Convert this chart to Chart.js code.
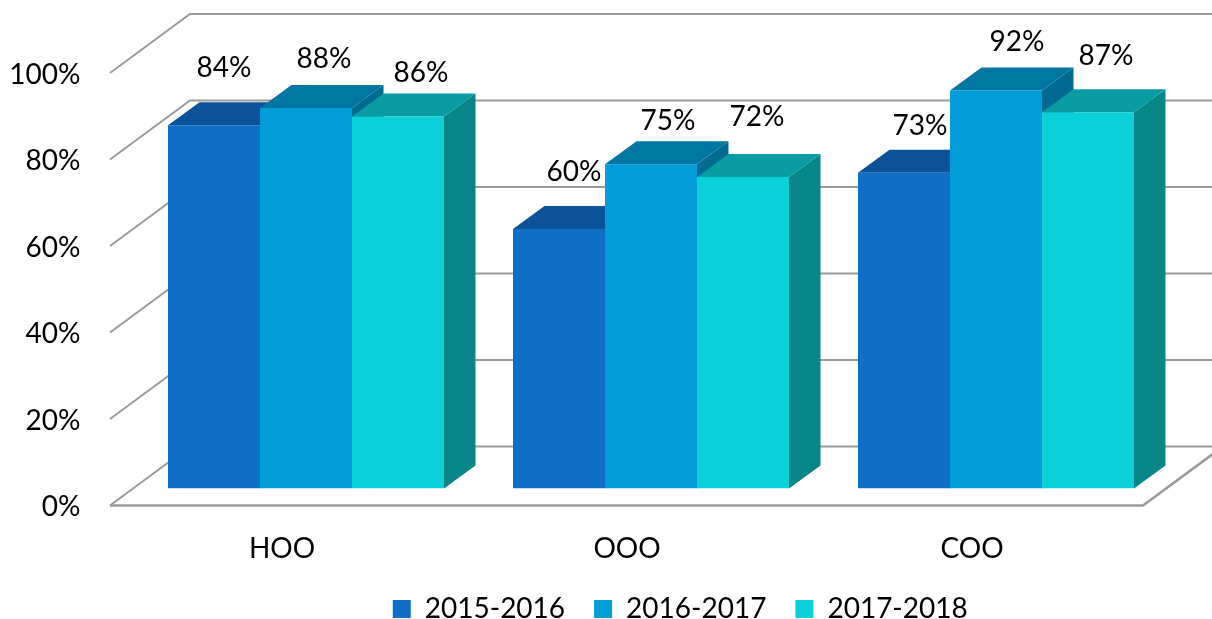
<!DOCTYPE html>
<html><head><meta charset="utf-8">
<style>html,body{margin:0;padding:0;background:#fff}#w{width:1212px;height:619px}</style>
<script src="https://cdn.jsdelivr.net/npm/chart.js@4"></script>
</head><body><div id="w"><canvas id="c"></canvas></div>
<script>
const categories = ['HOO','OOO','COO'];
const seriesNames = ['2015-2016','2016-2017','2017-2018'];
const values2015 = [84,60,73];
const values2016 = [88,75,92];
const values2017 = [86,72,87];
const frontColors = ['#0F6FC6','#009DD9','#0BD0D9'];
const topColors = ['#0B5298','#0077A3','#0A9CA3'];
const sideColors = ['#0A4F8F','#006A90','#078587'];
// hand-placed data label nudges relative to bar top-centre (as in the original)
const labelNudgeX = [[10,15,16],[18,17,21],[23,14,18]];
const labelNudgeY = [[-57,-57,-47],[-49,-43,-49],[-44,-60,-56]];
const FONT = 'Lato, Carlito, sans-serif';

const depth = {dx:31.5, dy:-23};
const wall = {l:-23.5, b:56.5, r:-25.5, dx:80, frontDy:17, backDy:-42};
const legendShift = {x:96, y:-8.5};

const threeD = {
  id:'threeD',
  afterLayout(ch){
    const l=ch.legend;
    l.left+=legendShift.x; l.right+=legendShift.x;
    l.top+=legendShift.y; l.bottom+=legendShift.y;
  },
  beforeDatasetsDraw(ch){
    const {ctx, chartArea:a, scales:{y}} = ch;
    ctx.save();
    ctx.strokeStyle='#9a9a9a'; ctx.lineWidth=2; ctx.lineJoin='miter';
    y.ticks.forEach(t=>{
      const p=y.getPixelForValue(t.value);
      ctx.beginPath();
      ctx.moveTo(a.left+wall.l,p+wall.frontDy);
      ctx.lineTo(a.left+wall.b,p+wall.backDy);
      ctx.lineTo(ch.width+5,p+wall.backDy);
      ctx.stroke();
    });
    const p0=y.getPixelForValue(0)+wall.frontDy;
    ctx.lineWidth=2.5;
    ctx.beginPath();
    ctx.moveTo(a.left+wall.l,p0);
    ctx.lineTo(a.right+wall.r,p0);
    ctx.lineTo(a.right+wall.r+wall.dx,p0-59);
    ctx.stroke();
    // depth faces, painted left to right
    categories.forEach((_,ci)=>{
      ch.data.datasets.forEach((ds,di)=>{
        const b=ch.getDatasetMeta(di).data[ci];
        const L=b.x-b.width/2,R=b.x+b.width/2,T=b.y,B=b.base;
        ctx.fillStyle=sideColors[di];
        ctx.beginPath();
        ctx.moveTo(R,T);ctx.lineTo(R+depth.dx,T+depth.dy);ctx.lineTo(R+depth.dx,B+depth.dy);ctx.lineTo(R,B);ctx.closePath();ctx.fill();
        ctx.fillStyle=topColors[di];
        ctx.beginPath();
        ctx.moveTo(L,T);ctx.lineTo(R,T);ctx.lineTo(R+depth.dx,T+depth.dy);ctx.lineTo(L+depth.dx,T+depth.dy);ctx.closePath();ctx.fill();
      });
    });
    ctx.restore();
  },
  afterDatasetsDraw(ch){
    const {ctx}=ch;
    ctx.save();
    ctx.fillStyle='#000';ctx.font='28px '+FONT;ctx.textAlign='center';ctx.textBaseline='middle';
    ch.data.datasets.forEach((ds,di)=>{
      ch.getDatasetMeta(di).data.forEach((b,ci)=>{
        ctx.fillText(ds.data[ci]+'%',b.x+labelNudgeX[di][ci],b.y+labelNudgeY[di][ci]);
      });
    });
    ctx.restore();
  }
};

const valueSets=[values2015,values2016,values2017];
new Chart(document.getElementById('c'),{
  type:'bar',
  data:{labels:categories,datasets:seriesNames.map((n,i)=>({
    label:n,data:valueSets[i],backgroundColor:frontColors[i],borderWidth:0,
    categoryPercentage:0.8,barPercentage:1
  }))},
  plugins:[threeD],
  options:{
    responsive:true,maintainAspectRatio:false,animation:false,
    layout:{autoPadding:false,padding:{top:56,right:43.5,left:0,bottom:-22.5}},
    plugins:{
      tooltip:{enabled:false},
      legend:{position:'bottom',labels:{boxWidth:18,boxHeight:18,padding:29,color:'#000',font:{family:FONT,size:28}}}
    },
    scales:{
      x:{grid:{display:false,drawTicks:false},border:{display:false},
         afterFit(s){s.height=86},
         ticks:{color:'#000',font:{family:FONT,size:28},padding:44,labelOffset:-24,maxRotation:0}},
      y:{min:0,max:100,grid:{display:false,drawTicks:false},border:{display:false},
         afterFit(s){s.width=133.5;s.paddingTop=0;s.paddingBottom=0},
         ticks:{stepSize:20,color:'#000',font:{family:FONT,size:28},padding:53,labelOffset:18.5,callback:v=>v+'%'}}
    }
  }
});
</script></body></html>
